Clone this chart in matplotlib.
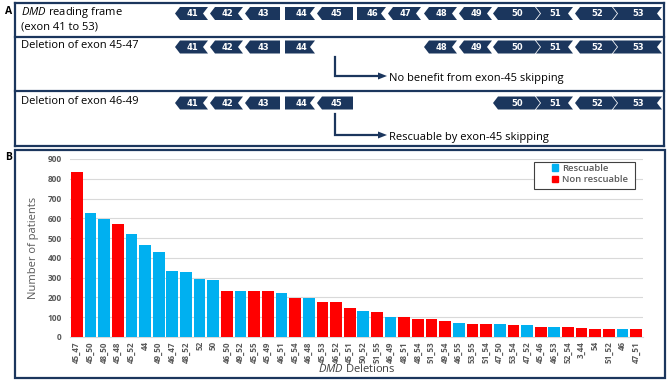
import matplotlib
matplotlib.use("Agg")
import matplotlib.pyplot as plt
from matplotlib.patches import Polygon, Rectangle
from matplotlib.lines import Line2D

FONT = 'Open Sans'
plt.rcParams['font.family'] = [FONT, 'DejaVu Sans']
plt.rcParams['mathtext.fontset'] = 'custom'
plt.rcParams['mathtext.rm'] = FONT
plt.rcParams['mathtext.it'] = FONT + ':italic'
plt.rcParams['mathtext.bf'] = FONT + ':bold'
plt.rcParams['mathtext.bfit'] = FONT + ':bold:italic'

# ---------------- data ----------------
deletions = ["45_47", "45_50", "48_50", "45_48", "45_52", "44", "49_50", "46_47", "48_52", "52",
             "50", "46_50", "49_52", "45_55", "45_49", "46_51", "45_54", "46_48", "45_53", "46_52",
             "45_51", "50_52", "51_55", "46_49", "48_51", "48_54", "51_53", "49_54", "46_55", "53_55",
             "51_54", "47_50", "53_54", "47_52", "45_46", "46_53", "52_54", "3_44", "54", "51_52",
             "46", "47_51"]
patients = [834, 626, 596, 572, 519, 467, 428, 335, 327, 294,
            289, 235, 234, 235, 232, 220, 198, 195, 178, 178,
            146, 130, 124, 102, 100, 93, 93, 80, 73, 68,
            68, 64, 61, 61, 52, 52, 52, 44, 42, 42,
            39, 39]
rescuable = [False, True, True, False, True, True, True, True, True, True,
             True, False, True, False, False, True, False, True, False, False,
             False, True, False, True, False, False, False, False, True, False,
             False, True, False, True, False, True, False, False, False, False,
             True, False]

exons = ["41", "42", "43", "44", "45", "46", "47", "48", "49", "50", "51", "52", "53"]
row_deletion_4547 = ["41", "42", "43", "44", "48", "49", "50", "51", "52", "53"]
row_deletion_4649 = ["41", "42", "43", "44", "45", "50", "51", "52", "53"]

# ---------------- layout ----------------
W, H = 669, 381
NAVY = "#1B365D"
BLUE = "#00B0F0"
RED = "#FF0000"
GRAY = "#595959"

fig = plt.figure(figsize=(W / 100, H / 100), dpi=100)

# bar chart axes (pixel box: x 70..643, y 159..337)
AX0, AX1, AY0, AY1 = 70, 643, 159, 337
ax = fig.add_axes([AX0 / W, 1 - AY1 / H, (AX1 - AX0) / W, (AY1 - AY0) / H])
colors = [BLUE if r else RED for r in rescuable]
x = list(range(len(deletions)))
ax.bar(x, patients, width=0.86, color=colors, zorder=3)
ax.set_xlim(-0.5, len(deletions) - 0.5)
ax.set_ylim(0, 900)
ax.set_yticks(range(0, 901, 100))
ax.set_xticks(x)
ax.set_xticklabels(deletions, rotation=90, fontsize=5.8, color=GRAY, fontweight='bold')
for lab in ax.get_yticklabels():
    lab.set_fontsize(6)
    lab.set_color(GRAY)
    lab.set_fontweight('bold')
ax.tick_params(axis='y', length=0, pad=6)
ax.tick_params(axis='x', length=0, pad=3)
ax.grid(axis='y', color='#D9D9D9', lw=0.8, zorder=0)
for s in ['top', 'right', 'left']:
    ax.spines[s].set_visible(False)
ax.spines['bottom'].set_color('#D9D9D9')
ax.set_ylabel("Number of patients", fontsize=8, color=GRAY, labelpad=6)
ax.set_xlabel(r"$\mathit{DMD}$ Deletions", fontsize=8, color='#404040', labelpad=0)


def px_to_ax(px, py):
    return (px - AX0) / (AX1 - AX0), (AY1 - py) / (AY1 - AY0)


# legend box (drawn separately to match its padding)
bx0, by0 = px_to_ax(534, 189)
bx1, by1 = px_to_ax(635, 162)
ax.add_patch(Rectangle((bx0, by0), bx1 - bx0, by1 - by0, transform=ax.transAxes,
                       fill=True, fc='white', ec='#404040', lw=0.8, zorder=5))
handles = [Rectangle((0, 0), 1, 1, color=BLUE), Rectangle((0, 0), 1, 1, color=RED)]
lx, ly = px_to_ax(549, 161)
leg = ax.legend(handles, ["Rescuable", "Non rescuable"], loc='upper left',
                bbox_to_anchor=(lx, ly), borderaxespad=0, frameon=False,
                fontsize=6.8, handlelength=0.7, handleheight=0.7,
                handletextpad=0.35, labelspacing=0.25, borderpad=0.3, labelcolor=GRAY)
leg.set_zorder(6)
for t in leg.get_texts():
    t.set_fontweight('semibold')

# overlay axes in pixel coordinates for panel A and frames
ov = fig.add_axes([0, 0, 1, 1], zorder=-1)
ov.set_xlim(0, W)
ov.set_ylim(H, 0)
ov.axis('off')

lw = 1.6
# panel A frame
for yy in [2.5, 37, 91, 146]:
    ov.add_line(Line2D([15, 664], [yy, yy], color=NAVY, lw=lw))
ov.add_line(Line2D([15, 15], [2.5, 146], color=NAVY, lw=lw))
ov.add_line(Line2D([664, 664], [2.5, 146], color=NAVY, lw=lw))
# panel B frame
ov.add_patch(Rectangle((15, 150), 650, 228, fill=False, ec=NAVY, lw=lw))

ov.text(5, 12, "A", fontsize=7.5, fontweight='bold', va='center', ha='left')
ov.text(5, 157, "B", fontsize=7.5, fontweight='bold', va='center', ha='left')

TS = 8.0
ov.text(21, 13, r"$\mathit{DMD}$ reading frame", fontsize=TS, va='center', ha='left')
ov.text(21, 27, "(exon 41 to 53)", fontsize=TS, va='center', ha='left')
ov.text(21, 46, "Deletion of exon 45-47", fontsize=TS, va='center', ha='left')
ov.text(21, 102, "Deletion of exon 46-49", fontsize=TS, va='center', ha='left')

# exon geometry (pixel bounds and end shapes)
bounds = {"41": (175, 208), "42": (210, 243), "43": (245, 280), "44": (285, 315),
          "45": (317, 353), "46": (357, 386), "47": (388, 421), "48": (424, 457),
          "49": (459, 492), "50": (493, 540), "51": (536, 573), "52": (575, 617),
          "53": (613, 662)}
left_shape = {"41": "point", "42": "point", "43": "point", "44": "flat", "45": "point",
              "46": "flat", "47": "point", "48": "point", "49": "point", "50": "point",
              "51": "notch", "52": "point", "53": "notch"}
right_shape = {"41": "notch", "42": "notch", "43": "flat", "44": "notch", "45": "flat",
               "46": "notch", "47": "notch", "48": "notch", "49": "notch", "50": "point",
               "51": "notch", "52": "point", "53": "notch"}
d = 5
eh = 13


def draw_exon(name, yc):
    L, R = bounds[name]
    top, bot = yc - eh / 2, yc + eh / 2
    pts = []
    ls = left_shape[name]
    rs = right_shape[name]
    if ls == "point":
        pts += [(L + d, bot), (L, yc), (L + d, top)]
    elif ls == "notch":
        pts += [(L, bot), (L + d, yc), (L, top)]
    else:
        pts += [(L, bot), (L, top)]
    if rs == "point":
        pts += [(R - d, top), (R, yc), (R - d, bot)]
    elif rs == "notch":
        pts += [(R, top), (R - d, yc), (R, bot)]
    else:
        pts += [(R, top), (R, bot)]
    ov.add_patch(Polygon(pts, closed=True, fc=NAVY, ec='none'))
    cx = (L + R) / 2
    ov.text(cx + 1, yc + 0.5, name, color='white', fontsize=6, fontweight='bold',
            ha='center', va='center', family=['DejaVu Sans'])


for e in exons:
    draw_exon(e, 13.5)
for e in row_deletion_4547:
    draw_exon(e, 47)
for e in row_deletion_4649:
    draw_exon(e, 103)

# arrows
for ytop, ybot, txt in [(57, 76, "No benefit from exon-45 skipping"),
                        (114, 135, "Rescuable by exon-45 skipping")]:
    ov.add_line(Line2D([335, 335, 380], [ytop, ybot, ybot], color=NAVY, lw=lw,
                       solid_joinstyle='miter'))
    ov.add_patch(Polygon([(378, ybot - 3.5), (387, ybot), (378, ybot + 3.5)], closed=True,
                         fc=NAVY, ec='none'))
    ov.text(389, ybot + 2.5, txt, fontsize=TS, va='center', ha='left')

fig.savefig("out.png", dpi=100)
